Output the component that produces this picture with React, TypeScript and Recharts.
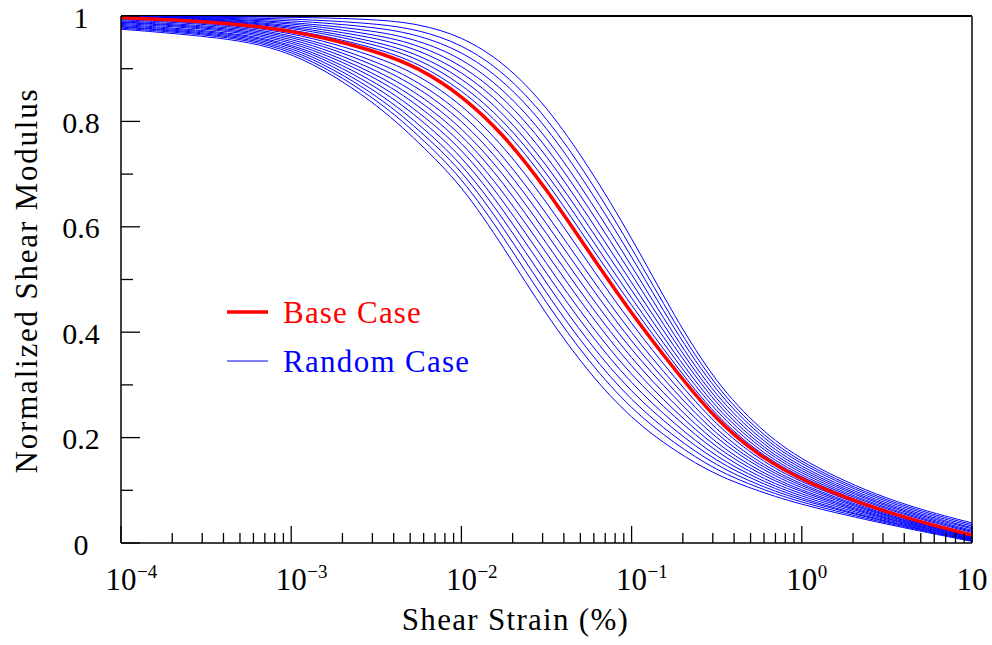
import React from "react";
import { LineChart, Line, XAxis, YAxis, ReferenceLine, Legend } from "recharts";

const FONT = '"Liberation Serif", "Times New Roman", serif';

// shear strain (%) sample points, log spaced
const strain = [0.0001, 0.000316, 0.001, 0.00316, 0.00562, 0.01, 0.0178, 0.0316, 0.0562, 0.1, 0.178, 0.316, 0.562, 1, 3.16, 10];

const baseCase = [0.997, 0.99, 0.975, 0.934, 0.902, 0.85, 0.775, 0.672, 0.552, 0.435, 0.33, 0.232, 0.165, 0.118, 0.056, 0.015];

// random realisations, left (softest) to right
const rc01 = [0.975, 0.962, 0.94, 0.835, 0.76, 0.68, 0.56, 0.432, 0.322, 0.235, 0.175, 0.128, 0.098, 0.072, 0.035, 0.003];
const rc02 = [0.977, 0.965, 0.943, 0.844, 0.773, 0.695, 0.579, 0.454, 0.343, 0.253, 0.189, 0.137, 0.104, 0.076, 0.037, 0.004];
const rc03 = [0.979, 0.967, 0.946, 0.852, 0.784, 0.709, 0.597, 0.473, 0.361, 0.269, 0.201, 0.146, 0.109, 0.08, 0.039, 0.005];
const rc04 = [0.98, 0.969, 0.949, 0.86, 0.795, 0.722, 0.614, 0.492, 0.379, 0.285, 0.214, 0.154, 0.115, 0.083, 0.04, 0.006];
const rc05 = [0.982, 0.971, 0.952, 0.868, 0.807, 0.736, 0.631, 0.511, 0.398, 0.301, 0.226, 0.162, 0.12, 0.087, 0.042, 0.007];
const rc06 = [0.984, 0.973, 0.954, 0.876, 0.818, 0.75, 0.648, 0.53, 0.416, 0.317, 0.239, 0.171, 0.125, 0.091, 0.044, 0.008];
const rc07 = [0.986, 0.976, 0.957, 0.884, 0.83, 0.763, 0.665, 0.55, 0.435, 0.333, 0.251, 0.179, 0.131, 0.095, 0.045, 0.009];
const rc08 = [0.988, 0.978, 0.96, 0.891, 0.841, 0.777, 0.683, 0.569, 0.453, 0.349, 0.263, 0.187, 0.136, 0.098, 0.047, 0.01];
const rc09 = [0.989, 0.98, 0.963, 0.899, 0.852, 0.79, 0.7, 0.588, 0.471, 0.365, 0.276, 0.196, 0.142, 0.102, 0.049, 0.011];
const rc10 = [0.991, 0.982, 0.966, 0.907, 0.864, 0.804, 0.717, 0.607, 0.49, 0.381, 0.288, 0.204, 0.147, 0.106, 0.05, 0.012];
const rc11 = [0.993, 0.985, 0.968, 0.915, 0.875, 0.818, 0.734, 0.626, 0.508, 0.397, 0.301, 0.212, 0.152, 0.109, 0.052, 0.013];
const rc12 = [0.995, 0.987, 0.971, 0.924, 0.888, 0.833, 0.753, 0.648, 0.529, 0.415, 0.314, 0.222, 0.158, 0.113, 0.054, 0.014];
const rc13 = [0.997, 0.991, 0.977, 0.94, 0.91, 0.861, 0.789, 0.688, 0.568, 0.45, 0.34, 0.239, 0.17, 0.122, 0.058, 0.017];
const rc14 = [0.998, 0.992, 0.98, 0.946, 0.919, 0.872, 0.802, 0.704, 0.584, 0.464, 0.35, 0.246, 0.175, 0.125, 0.061, 0.02];
const rc15 = [0.998, 0.993, 0.982, 0.952, 0.927, 0.884, 0.816, 0.719, 0.601, 0.479, 0.36, 0.253, 0.181, 0.129, 0.063, 0.022];
const rc16 = [0.998, 0.994, 0.984, 0.959, 0.936, 0.896, 0.831, 0.737, 0.618, 0.494, 0.371, 0.261, 0.186, 0.133, 0.066, 0.024];
const rc17 = [0.999, 0.995, 0.987, 0.965, 0.945, 0.908, 0.846, 0.754, 0.636, 0.51, 0.382, 0.268, 0.192, 0.137, 0.068, 0.027];
const rc18 = [0.999, 0.996, 0.989, 0.972, 0.954, 0.921, 0.861, 0.772, 0.654, 0.526, 0.393, 0.276, 0.198, 0.141, 0.071, 0.029];
const rc19 = [0.999, 0.997, 0.992, 0.979, 0.964, 0.934, 0.878, 0.791, 0.674, 0.544, 0.405, 0.285, 0.204, 0.146, 0.074, 0.032];
const rc20 = [1.0, 0.998, 0.995, 0.986, 0.974, 0.947, 0.894, 0.809, 0.693, 0.561, 0.417, 0.293, 0.21, 0.15, 0.077, 0.035];
const rc21 = [1.0, 0.999, 0.998, 0.994, 0.985, 0.962, 0.912, 0.83, 0.714, 0.58, 0.43, 0.302, 0.217, 0.155, 0.08, 0.038];

const randomCases = [rc01, rc02, rc03, rc04, rc05, rc06, rc07, rc08, rc09, rc10, rc11, rc12, rc13, rc14, rc15, rc16, rc17, rc18, rc19, rc20, rc21];

const decadeTicks = [0.0001, 0.001, 0.01, 0.1, 1, 10];
const decadeBase = ["10", "10", "10", "10", "10", "10"];
const decadeExp = ["\u22124", "\u22123", "\u22122", "\u22121", "0", ""];
const minorSteps = [1, 2, 3, 4, 5, 6, 7, 8, 9];

const yTicks = [0, 0.1, 0.2, 0.3, 0.4, 0.5, 0.6, 0.7, 0.8, 0.9, 1];
const yTickLabels = ["0", "", "0.2", "", "0.4", "", "0.6", "", "0.8", "", "1"];

const legendNames = ["Base Case", "Random Case"];

const xTicks = [
  ...decadeTicks.slice(0, -1).flatMap((d) => minorSteps.map((m) => d * m)),
  10,
];

const tableData = strain.map((s, i) => {
  const row: any = { strain: s, base: baseCase[i] };
  randomCases.forEach((rc, k) => {
    row[`r${k}`] = rc[i];
  });
  return row;
});

const XTick = (props: any) => {
  const { x, y, payload } = props;
  const v = payload.value;
  const di = decadeTicks.findIndex((d) => Math.abs(d - v) / d < 1e-6);
  const major = di >= 0;
  return (
    <g>
      <line x1={x} y1={y} x2={x} y2={y - (major ? 17 : 10)} stroke="#000" strokeWidth={1.3} />
      {major && (
        <text x={x} y={y + 47} textAnchor="middle" fontSize={31} fontFamily={FONT} fill="#000">
          {decadeBase[di]}
        </text>
      )}
      {major && decadeExp[di] && (
        <text x={x + 16} y={y + 35} fontSize={19} fontFamily={FONT} fill="#000">
          {decadeExp[di]}
        </text>
      )}
    </g>
  );
};

const YTick = (props: any) => {
  const { x, y, index } = props;
  const label = yTickLabels[index];
  const major = label !== "";
  return (
    <g>
      <line x1={x} y1={y} x2={x + (major ? 19 : 12)} y2={y} stroke="#000" strokeWidth={1.3} />
      {major && (
        <text x={x - 40} y={y + 11.5} textAnchor="middle" fontSize={30} fontFamily={FONT} fill="#000">
          {label}
        </text>
      )}
    </g>
  );
};

const LegendBox = () => (
  <svg width={280} height={95} style={{ display: "block" }}>
    <line x1={7} y1={22} x2={48} y2={22} stroke="#ff0000" strokeWidth={3.5} />
    <text x={63} y={33} fill="#ff0000" fontSize={31} fontFamily={FONT} letterSpacing={1.2}>
      {legendNames[0]}
    </text>
    <line x1={7} y1={71} x2={48} y2={71} stroke="#0000ff" strokeWidth={1} />
    <text x={63} y={82} fill="#0000ff" fontSize={31} fontFamily={FONT} letterSpacing={1.3}>
      {legendNames[1]}
    </text>
  </svg>
);

export default function App() {
  return (
    <div style={{ position: "absolute", left: 0, top: 0, background: "#fff" }}>
      <LineChart width={992} height={645} data={tableData} margin={{ top: 16, right: 20, bottom: 0, left: 0 }}>
        <XAxis
          dataKey="strain"
          type="number"
          scale="log"
          domain={[0.0001, 10]}
          allowDataOverflow
          ticks={xTicks}
          interval={0}
          tickSize={0}
          tickMargin={0}
          tickLine={false}
          tick={<XTick />}
          height={102}
          axisLine={{ stroke: "#000", strokeWidth: 1.5 }}
          label={{
            content: ({ viewBox }: any) => (
              <text
                x={viewBox.x + viewBox.width / 2 - 31}
                y={viewBox.y + 87}
                textAnchor="middle"
                fontSize={31}
                fontFamily={FONT}
                letterSpacing={1.3}
                fill="#000"
              >
                Shear Strain (%)
              </text>
            ),
          }}
        />
        <YAxis
          type="number"
          domain={[0, 1]}
          allowDataOverflow
          ticks={yTicks}
          interval={0}
          tickSize={0}
          tickMargin={0}
          tickLine={false}
          tick={<YTick />}
          width={121}
          axisLine={{ stroke: "#000", strokeWidth: 1.5 }}
          label={{
            content: ({ viewBox }: any) => {
              const cx = 37;
              const cy = viewBox.y + viewBox.height / 2 + 1;
              return (
                <text
                  x={cx}
                  y={cy}
                  transform={`rotate(-90, ${cx}, ${cy})`}
                  textAnchor="middle"
                  fontSize={31}
                  fontFamily={FONT}
                  letterSpacing={1.8}
                  fill="#000"
                >
                  Normalized Shear Modulus
                </text>
              );
            },
          }}
        />
        <ReferenceLine y={1} stroke="#000" strokeWidth={2} />
        <ReferenceLine x={10} stroke="#444" strokeWidth={2} />
        {randomCases.map((_, k) => (
          <Line
            key={`rc-${k}`}
            type="basis"
            dataKey={`r${k}`}
            stroke="#0000ff"
            strokeWidth={1}
            dot={false}
            isAnimationActive={false}
            legendType="none"
          />
        ))}
        <Line
          type="basis"
          dataKey="base"
          stroke="#ff0000"
          strokeWidth={3.5}
          dot={false}
          isAnimationActive={false}
        />
        <Legend
          layout="horizontal"
          verticalAlign="middle"
          align="center"
          content={() => <LegendBox />}
          wrapperStyle={{ left: 220, top: 290, width: 280, height: 95 }}
        />
      </LineChart>
    </div>
  );
}
